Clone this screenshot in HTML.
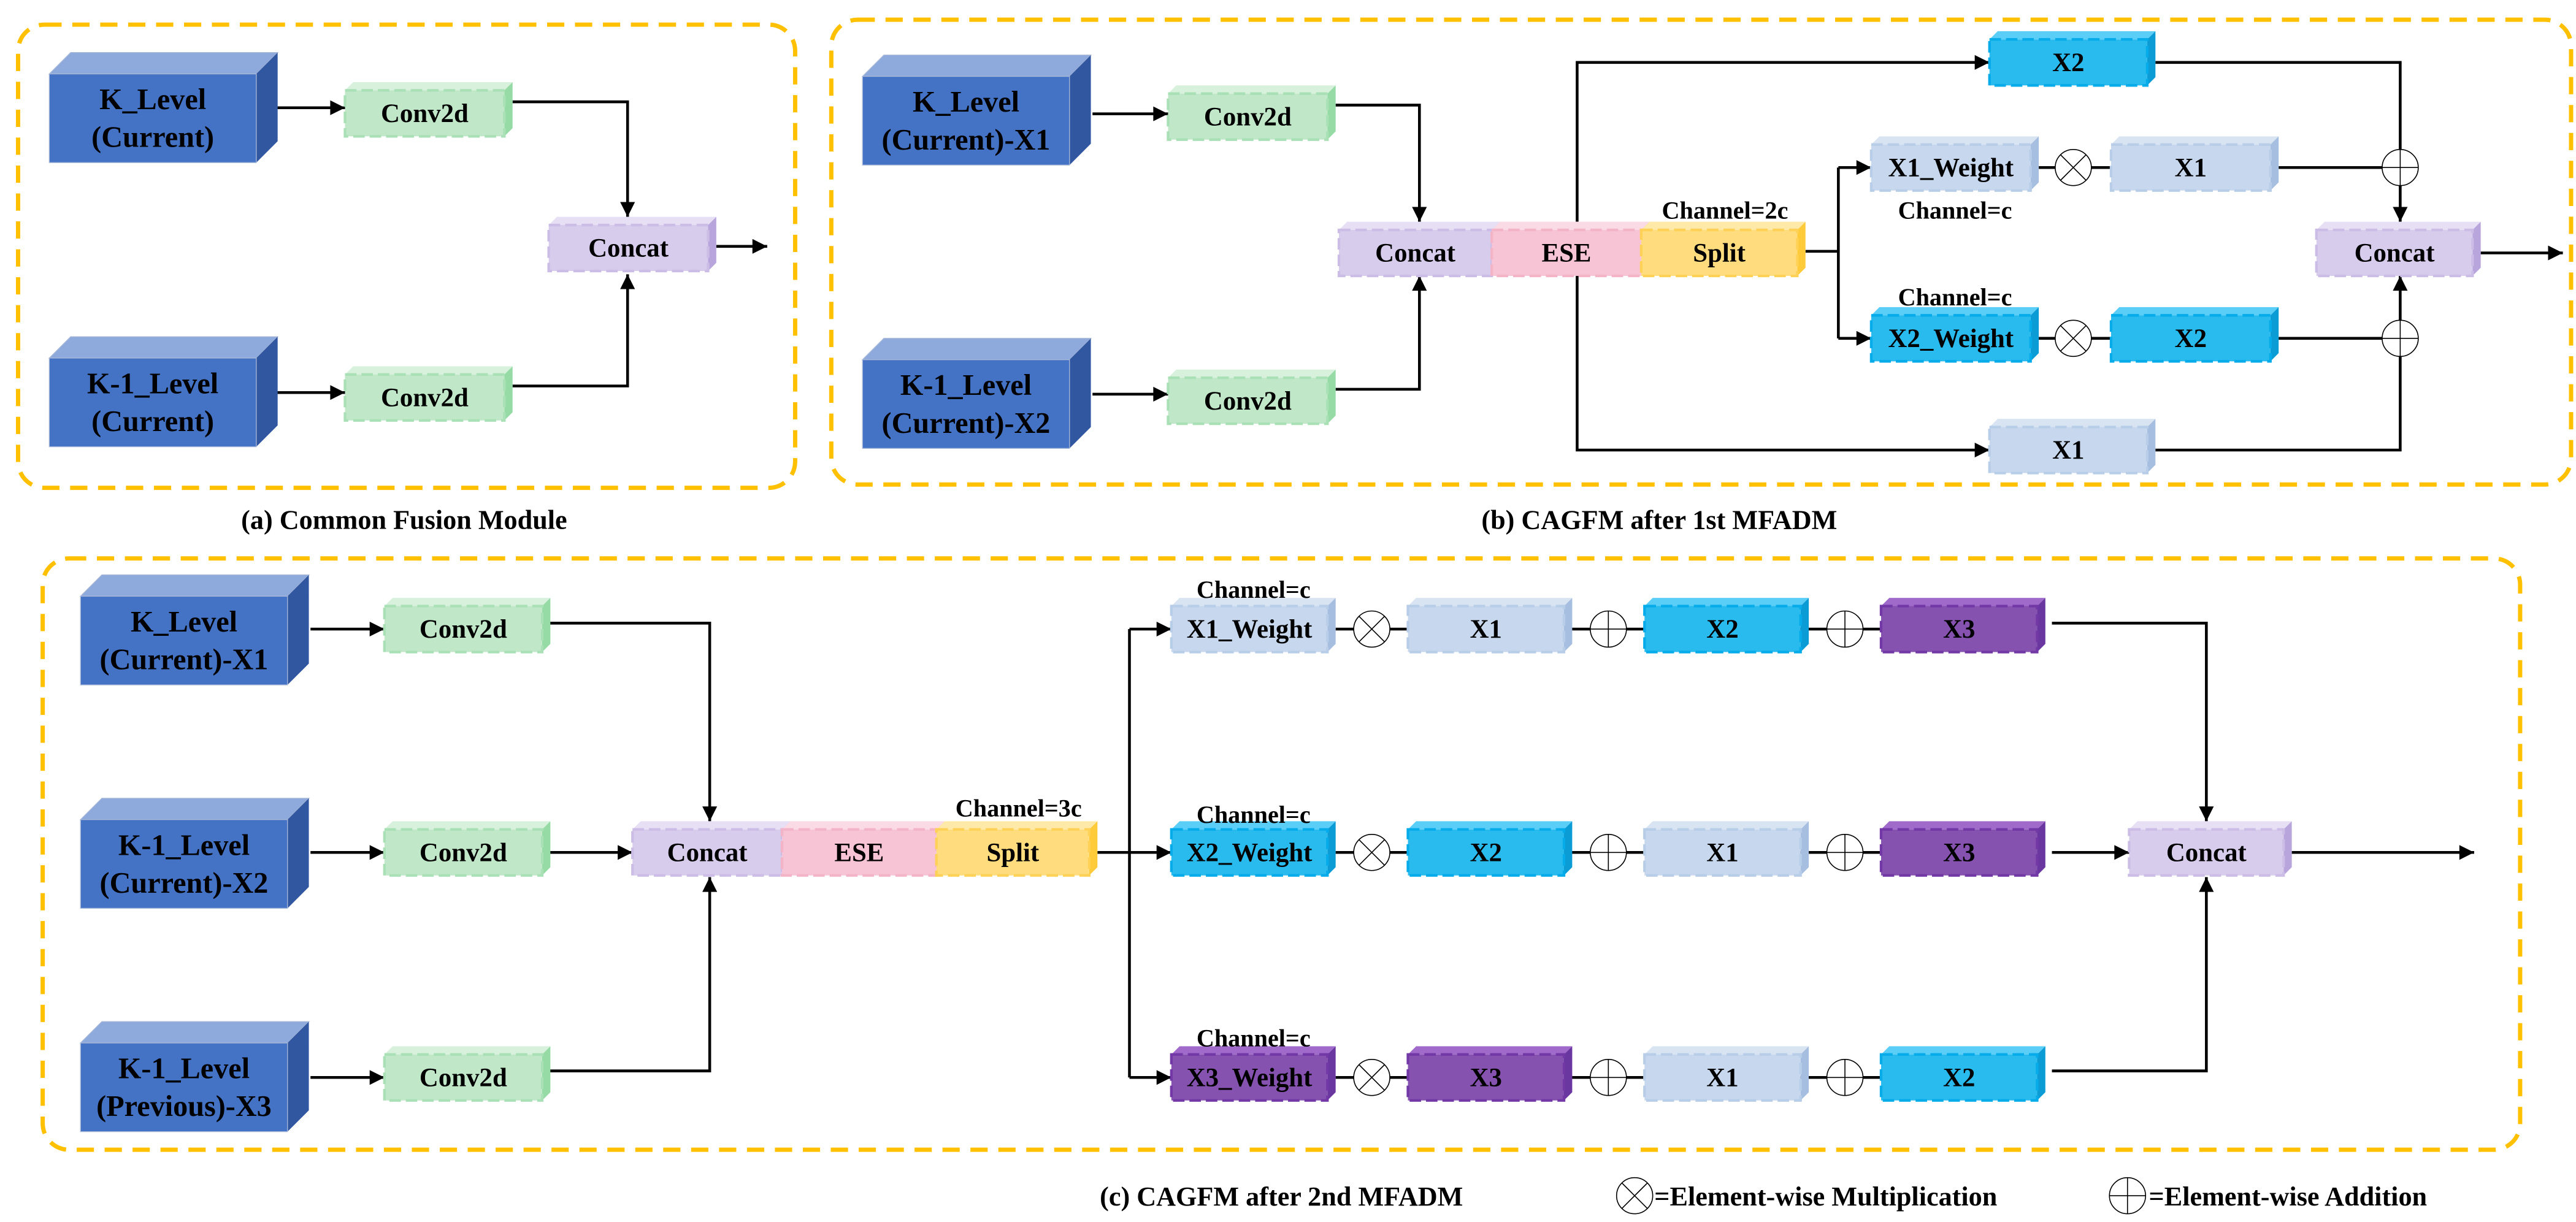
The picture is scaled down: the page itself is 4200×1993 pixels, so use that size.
<!DOCTYPE html>
<html><head><meta charset="utf-8">
<style>
html,body{margin:0;padding:0;background:#fff;}
svg{display:block;}
svg text{font-family:"Liberation Serif",serif !important;font-weight:700;fill:#000;text-anchor:middle;}
.t16{font-size:16px}.t18{font-size:18px}.t15{font-size:15px}.cap{font-size:16.5px}
.ln{fill:none;stroke:#000;stroke-width:1.7}
.bd{fill:none;stroke:#FFC000;stroke-width:2.6;stroke-dasharray:10.5 6.5}
.G .f{fill:#C0E8C8;stroke:#A9E0B6;stroke-width:1.6;stroke-dasharray:7 3}.G .u{fill:#D8F1DC}.G .s{fill:#96DBA6}
.P .f{fill:#D8CCEC;stroke:#CBBDE6;stroke-width:1.6;stroke-dasharray:7 3}.P .u{fill:#E7DFF4}.P .s{fill:#B7A5DC}
.K .f{fill:#F7C4D5;stroke:#F4B4C8;stroke-width:1.6;stroke-dasharray:7 3}.K .u{fill:#FADAE5}.K .s{fill:#EFA8BF}
.Y .f{fill:#FFDD7E;stroke:#FFD257;stroke-width:1.6;stroke-dasharray:7 3}.Y .u{fill:#FFE9A8}.Y .s{fill:#FFCB3A}
.L .f{fill:#C7D8EE;stroke:#B8CDE8;stroke-width:1.6;stroke-dasharray:7 3}.L .u{fill:#D9E4F3}.L .s{fill:#A6BEE0}
.C .f{fill:#29BBEE;stroke:#06ABEA;stroke-width:1.6;stroke-dasharray:7 3}.C .u{fill:#5ACEF7}.C .s{fill:#0B9CD6}
.V .f{fill:#8652B0;stroke:#7238A6;stroke-width:1.6;stroke-dasharray:7 3}.V .u{fill:#A06ACB}.V .s{fill:#6A36A0}
.B .f{fill:#4472C4;stroke:#A8B8D8;stroke-width:0.5}.B .u{fill:#8EA9DB;stroke:#A8B8D8;stroke-width:0.5}.B .s{fill:#3157A0}
.ci{fill:#fff;stroke:#000;stroke-width:0.6}
.cl{stroke:#000;stroke-width:0.6}
</style></head><body>
<svg width="4200" height="1993" viewBox="0 0 1568 744" preserveAspectRatio="none" xmlns="http://www.w3.org/2000/svg" font-family="Liberation Serif, serif" font-weight="bold">
<defs>
<marker id="ar" viewBox="0 0 10 10" refX="10" refY="5" markerWidth="10" markerHeight="9" markerUnits="userSpaceOnUse" orient="auto"><path d="M0 0L10 5L0 10z" fill="#000"/></marker>
<g id="mul"><circle class="ci" r="11"/><path class="cl" d="M-7.8 -7.8L7.8 7.8M-7.8 7.8L7.8 -7.8"/></g>
<g id="add"><circle class="ci" r="11"/><path class="cl" d="M-11 0H11M0 -11V11"/></g>
</defs>

<rect class="bd" x="11" y="15" width="473" height="282" rx="16"/>
<rect class="bd" x="506" y="12" width="1059" height="283" rx="16"/>
<rect class="bd" x="26" y="340" width="1508" height="360" rx="16"/>

<g class="ln">
<path d="M168 65.6H210" marker-end="url(#ar)"/>
<path d="M168 239H210" marker-end="url(#ar)"/>
<path d="M312 62H382V132" marker-end="url(#ar)"/>
<path d="M312 235H382V167" marker-end="url(#ar)"/>
<path d="M436 150H467" marker-end="url(#ar)"/>
<path d="M665 69.3H711" marker-end="url(#ar)"/>
<path d="M665 240H711" marker-end="url(#ar)"/>
<path d="M813 64H864V135" marker-end="url(#ar)"/>
<path d="M813 237H864V168" marker-end="url(#ar)"/>
<path d="M960 135V38H1211" marker-end="url(#ar)"/>
<path d="M960 168V274H1211" marker-end="url(#ar)"/>
<path d="M1099 153H1119M1119 102V206"/>
<path d="M1119 102H1139" marker-end="url(#ar)"/>
<path d="M1119 206H1139" marker-end="url(#ar)"/>
<path d="M1241 102H1285M1241 206H1285M1387 102H1461M1387 206H1461"/>
<path d="M1312 38H1461V135" marker-end="url(#ar)"/>
<path d="M1312 274H1461V168" marker-end="url(#ar)"/>
<path d="M1510 154H1560" marker-end="url(#ar)"/>
<path d="M189 383H234" marker-end="url(#ar)"/>
<path d="M189 519H234" marker-end="url(#ar)"/>
<path d="M189 656H234" marker-end="url(#ar)"/>
<path d="M334 379.4H432V500" marker-end="url(#ar)"/>
<path d="M334 519H385" marker-end="url(#ar)"/>
<path d="M334 652H432V534" marker-end="url(#ar)"/>
<path d="M668 519H687.5M687.5 383V656"/>
<path d="M687.5 383H713" marker-end="url(#ar)"/>
<path d="M687.5 519H713" marker-end="url(#ar)"/>
<path d="M687.5 656H713" marker-end="url(#ar)"/>
<path d="M813 383H1145M813 519H1145M813 656H1145"/>
<path d="M1249 379.4H1343V500" marker-end="url(#ar)"/>
<path d="M1249 519H1296" marker-end="url(#ar)"/>
<path d="M1249 652H1343V534" marker-end="url(#ar)"/>
<path d="M1395 519H1506" marker-end="url(#ar)"/>
</g>

<g class="B" transform="translate(30,45)"><path class="u" d="M0 0l13-13h126l-13 13z"/><path class="s" d="M126 0l13-13v54l-13 13z"/><rect class="f" width="126" height="54"/><text class="t18" font-family="Liberation Serif, serif" x="63" y="21.5">K_Level</text><text class="t18" font-family="Liberation Serif, serif" x="63" y="44.5">(Current)</text></g>
<g class="B" transform="translate(30,218)"><path class="u" d="M0 0l13-13h126l-13 13z"/><path class="s" d="M126 0l13-13v54l-13 13z"/><rect class="f" width="126" height="54"/><text class="t18" font-family="Liberation Serif, serif" x="63" y="21.5">K-1_Level</text><text class="t18" font-family="Liberation Serif, serif" x="63" y="44.5">(Current)</text></g>

<g class="B" transform="translate(525,46.5)"><path class="u" d="M0 0l13-13h126l-13 13z"/><path class="s" d="M126 0l13-13v54l-13 13z"/><rect class="f" width="126" height="54"/><text class="t18" font-family="Liberation Serif, serif" x="63" y="21.5">K_Level</text><text class="t18" font-family="Liberation Serif, serif" x="63" y="44.5">(Current)-X1</text></g>
<g class="B" transform="translate(525,219)"><path class="u" d="M0 0l13-13h126l-13 13z"/><path class="s" d="M126 0l13-13v54l-13 13z"/><rect class="f" width="126" height="54"/><text class="t18" font-family="Liberation Serif, serif" x="63" y="21.5">K-1_Level</text><text class="t18" font-family="Liberation Serif, serif" x="63" y="44.5">(Current)-X2</text></g>

<g class="B" transform="translate(49,363)"><path class="u" d="M0 0l13-13h126l-13 13z"/><path class="s" d="M126 0l13-13v54l-13 13z"/><rect class="f" width="126" height="54"/><text class="t18" font-family="Liberation Serif, serif" x="63" y="21.5">K_Level</text><text class="t18" font-family="Liberation Serif, serif" x="63" y="44.5">(Current)-X1</text></g>
<g class="B" transform="translate(49,499)"><path class="u" d="M0 0l13-13h126l-13 13z"/><path class="s" d="M126 0l13-13v54l-13 13z"/><rect class="f" width="126" height="54"/><text class="t18" font-family="Liberation Serif, serif" x="63" y="21.5">K-1_Level</text><text class="t18" font-family="Liberation Serif, serif" x="63" y="44.5">(Current)-X2</text></g>
<g class="B" transform="translate(49,635)"><path class="u" d="M0 0l13-13h126l-13 13z"/><path class="s" d="M126 0l13-13v54l-13 13z"/><rect class="f" width="126" height="54"/><text class="t18" font-family="Liberation Serif, serif" x="63" y="21.5">K-1_Level</text><text class="t18" font-family="Liberation Serif, serif" x="63" y="44.5">(Previous)-X3</text></g>

<g class="G" transform="translate(210,55)"><path class="u" d="M0 0l5-5h97l-5 5z"/><path class="s" d="M97 0l5-5v28l-5 5z"/><rect class="f" width="97" height="28"/><text class="t16" font-family="Liberation Serif, serif" x="48.5" y="19.3">Conv2d</text></g>
<g class="G" transform="translate(210,228)"><path class="u" d="M0 0l5-5h97l-5 5z"/><path class="s" d="M97 0l5-5v28l-5 5z"/><rect class="f" width="97" height="28"/><text class="t16" font-family="Liberation Serif, serif" x="48.5" y="19.3">Conv2d</text></g>
<g class="P" transform="translate(334,137)"><path class="u" d="M0 0l5-5h97l-5 5z"/><path class="s" d="M97 0l5-5v28l-5 5z"/><rect class="f" width="97" height="28"/><text class="t16" font-family="Liberation Serif, serif" x="48.5" y="19.3">Concat</text></g>
<g class="G" transform="translate(711,57)"><path class="u" d="M0 0l5-5h97l-5 5z"/><path class="s" d="M97 0l5-5v28l-5 5z"/><rect class="f" width="97" height="28"/><text class="t16" font-family="Liberation Serif, serif" x="48.5" y="19.3">Conv2d</text></g>
<g class="G" transform="translate(711,230)"><path class="u" d="M0 0l5-5h97l-5 5z"/><path class="s" d="M97 0l5-5v28l-5 5z"/><rect class="f" width="97" height="28"/><text class="t16" font-family="Liberation Serif, serif" x="48.5" y="19.3">Conv2d</text></g>
<g class="P" transform="translate(815,140)"><path class="u" d="M0 0l5-5h93l-5 5z"/><path class="s" d="M93 0l5-5v28l-5 5z"/><rect class="f" width="93" height="28"/><text class="t16" font-family="Liberation Serif, serif" x="46.5" y="19.3">Concat</text></g>
<g class="K" transform="translate(908,140)"><path class="u" d="M0 0l5-5h91l-5 5z"/><path class="s" d="M91 0l5-5v28l-5 5z"/><rect class="f" width="91" height="28"/><text class="t16" font-family="Liberation Serif, serif" x="45.5" y="19.3">ESE</text></g>
<g class="Y" transform="translate(999,140)"><path class="u" d="M0 0l5-5h95l-5 5z"/><path class="s" d="M95 0l5-5v28l-5 5z"/><rect class="f" width="95" height="28"/><text class="t16" font-family="Liberation Serif, serif" x="47.5" y="19.3">Split</text></g>
<g class="C" transform="translate(1211,24)"><path class="u" d="M0 0l5-5h96l-5 5z"/><path class="s" d="M96 0l5-5v28l-5 5z"/><rect class="f" width="96" height="28"/><text class="t16" font-family="Liberation Serif, serif" x="48" y="19.3">X2</text></g>
<g class="L" transform="translate(1139,88)"><path class="u" d="M0 0l5-5h97l-5 5z"/><path class="s" d="M97 0l5-5v28l-5 5z"/><rect class="f" width="97" height="28"/><text class="t16" font-family="Liberation Serif, serif" x="48.5" y="19.3">X1_Weight</text></g>
<g class="L" transform="translate(1285,88)"><path class="u" d="M0 0l5-5h97l-5 5z"/><path class="s" d="M97 0l5-5v28l-5 5z"/><rect class="f" width="97" height="28"/><text class="t16" font-family="Liberation Serif, serif" x="48.5" y="19.3">X1</text></g>
<g class="C" transform="translate(1139,192)"><path class="u" d="M0 0l5-5h97l-5 5z"/><path class="s" d="M97 0l5-5v28l-5 5z"/><rect class="f" width="97" height="28"/><text class="t16" font-family="Liberation Serif, serif" x="48.5" y="19.3">X2_Weight</text></g>
<g class="C" transform="translate(1285,192)"><path class="u" d="M0 0l5-5h97l-5 5z"/><path class="s" d="M97 0l5-5v28l-5 5z"/><rect class="f" width="97" height="28"/><text class="t16" font-family="Liberation Serif, serif" x="48.5" y="19.3">X2</text></g>
<g class="L" transform="translate(1211,260)"><path class="u" d="M0 0l5-5h96l-5 5z"/><path class="s" d="M96 0l5-5v28l-5 5z"/><rect class="f" width="96" height="28"/><text class="t16" font-family="Liberation Serif, serif" x="48" y="19.3">X1</text></g>
<g class="P" transform="translate(1410,140)"><path class="u" d="M0 0l5-5h95l-5 5z"/><path class="s" d="M95 0l5-5v28l-5 5z"/><rect class="f" width="95" height="28"/><text class="t16" font-family="Liberation Serif, serif" x="47.5" y="19.3">Concat</text></g>
<g class="G" transform="translate(234,369)"><path class="u" d="M0 0l5-5h96l-5 5z"/><path class="s" d="M96 0l5-5v28l-5 5z"/><rect class="f" width="96" height="28"/><text class="t16" font-family="Liberation Serif, serif" x="48" y="19.3">Conv2d</text></g>
<g class="G" transform="translate(234,505)"><path class="u" d="M0 0l5-5h96l-5 5z"/><path class="s" d="M96 0l5-5v28l-5 5z"/><rect class="f" width="96" height="28"/><text class="t16" font-family="Liberation Serif, serif" x="48" y="19.3">Conv2d</text></g>
<g class="G" transform="translate(234,642)"><path class="u" d="M0 0l5-5h96l-5 5z"/><path class="s" d="M96 0l5-5v28l-5 5z"/><rect class="f" width="96" height="28"/><text class="t16" font-family="Liberation Serif, serif" x="48" y="19.3">Conv2d</text></g>
<g class="P" transform="translate(385,505)"><path class="u" d="M0 0l5-5h91l-5 5z"/><path class="s" d="M91 0l5-5v28l-5 5z"/><rect class="f" width="91" height="28"/><text class="t16" font-family="Liberation Serif, serif" x="45.5" y="19.3">Concat</text></g>
<g class="K" transform="translate(476,505)"><path class="u" d="M0 0l5-5h94l-5 5z"/><path class="s" d="M94 0l5-5v28l-5 5z"/><rect class="f" width="94" height="28"/><text class="t16" font-family="Liberation Serif, serif" x="47" y="19.3">ESE</text></g>
<g class="Y" transform="translate(570,505)"><path class="u" d="M0 0l5-5h93l-5 5z"/><path class="s" d="M93 0l5-5v28l-5 5z"/><rect class="f" width="93" height="28"/><text class="t16" font-family="Liberation Serif, serif" x="46.5" y="19.3">Split</text></g>
<g class="L" transform="translate(713,369)"><path class="u" d="M0 0l5-5h95l-5 5z"/><path class="s" d="M95 0l5-5v28l-5 5z"/><rect class="f" width="95" height="28"/><text class="t16" font-family="Liberation Serif, serif" x="47.5" y="19.3">X1_Weight</text></g>
<g class="L" transform="translate(857,369)"><path class="u" d="M0 0l5-5h95l-5 5z"/><path class="s" d="M95 0l5-5v28l-5 5z"/><rect class="f" width="95" height="28"/><text class="t16" font-family="Liberation Serif, serif" x="47.5" y="19.3">X1</text></g>
<g class="C" transform="translate(1001,369)"><path class="u" d="M0 0l5-5h95l-5 5z"/><path class="s" d="M95 0l5-5v28l-5 5z"/><rect class="f" width="95" height="28"/><text class="t16" font-family="Liberation Serif, serif" x="47.5" y="19.3">X2</text></g>
<g class="V" transform="translate(1145,369)"><path class="u" d="M0 0l5-5h95l-5 5z"/><path class="s" d="M95 0l5-5v28l-5 5z"/><rect class="f" width="95" height="28"/><text class="t16" font-family="Liberation Serif, serif" x="47.5" y="19.3">X3</text></g>
<g class="C" transform="translate(713,505)"><path class="u" d="M0 0l5-5h95l-5 5z"/><path class="s" d="M95 0l5-5v28l-5 5z"/><rect class="f" width="95" height="28"/><text class="t16" font-family="Liberation Serif, serif" x="47.5" y="19.3">X2_Weight</text></g>
<g class="C" transform="translate(857,505)"><path class="u" d="M0 0l5-5h95l-5 5z"/><path class="s" d="M95 0l5-5v28l-5 5z"/><rect class="f" width="95" height="28"/><text class="t16" font-family="Liberation Serif, serif" x="47.5" y="19.3">X2</text></g>
<g class="L" transform="translate(1001,505)"><path class="u" d="M0 0l5-5h95l-5 5z"/><path class="s" d="M95 0l5-5v28l-5 5z"/><rect class="f" width="95" height="28"/><text class="t16" font-family="Liberation Serif, serif" x="47.5" y="19.3">X1</text></g>
<g class="V" transform="translate(1145,505)"><path class="u" d="M0 0l5-5h95l-5 5z"/><path class="s" d="M95 0l5-5v28l-5 5z"/><rect class="f" width="95" height="28"/><text class="t16" font-family="Liberation Serif, serif" x="47.5" y="19.3">X3</text></g>
<g class="V" transform="translate(713,642)"><path class="u" d="M0 0l5-5h95l-5 5z"/><path class="s" d="M95 0l5-5v28l-5 5z"/><rect class="f" width="95" height="28"/><text class="t16" font-family="Liberation Serif, serif" x="47.5" y="19.3">X3_Weight</text></g>
<g class="V" transform="translate(857,642)"><path class="u" d="M0 0l5-5h95l-5 5z"/><path class="s" d="M95 0l5-5v28l-5 5z"/><rect class="f" width="95" height="28"/><text class="t16" font-family="Liberation Serif, serif" x="47.5" y="19.3">X3</text></g>
<g class="L" transform="translate(1001,642)"><path class="u" d="M0 0l5-5h95l-5 5z"/><path class="s" d="M95 0l5-5v28l-5 5z"/><rect class="f" width="95" height="28"/><text class="t16" font-family="Liberation Serif, serif" x="47.5" y="19.3">X1</text></g>
<g class="C" transform="translate(1145,642)"><path class="u" d="M0 0l5-5h95l-5 5z"/><path class="s" d="M95 0l5-5v28l-5 5z"/><rect class="f" width="95" height="28"/><text class="t16" font-family="Liberation Serif, serif" x="47.5" y="19.3">X2</text></g>
<g class="P" transform="translate(1296,505)"><path class="u" d="M0 0l5-5h94l-5 5z"/><path class="s" d="M94 0l5-5v28l-5 5z"/><rect class="f" width="94" height="28"/><text class="t16" font-family="Liberation Serif, serif" x="47" y="19.3">Concat</text></g>

<use href="#mul" x="1262" y="102"/><use href="#mul" x="1262" y="206"/>
<use href="#add" x="1461" y="102"/><use href="#add" x="1461" y="206"/>
<use href="#mul" x="835" y="383"/><use href="#add" x="979" y="383"/><use href="#add" x="1123" y="383"/>
<use href="#mul" x="835" y="519"/><use href="#add" x="979" y="519"/><use href="#add" x="1123" y="519"/>
<use href="#mul" x="835" y="656"/><use href="#add" x="979" y="656"/><use href="#add" x="1123" y="656"/>

<text class="t15" font-family="Liberation Serif, serif" x="1050" y="133">Channel=2c</text>
<text class="t15" font-family="Liberation Serif, serif" x="1190" y="133">Channel=c</text>
<text class="t15" font-family="Liberation Serif, serif" x="1190" y="186">Channel=c</text>
<text class="t15" font-family="Liberation Serif, serif" x="620" y="497">Channel=3c</text>
<text class="t15" font-family="Liberation Serif, serif" x="763" y="364">Channel=c</text>
<text class="t15" font-family="Liberation Serif, serif" x="763" y="501">Channel=c</text>
<text class="t15" font-family="Liberation Serif, serif" x="763" y="637">Channel=c</text>

<text class="cap" font-family="Liberation Serif, serif" x="246" y="322">(a) Common Fusion Module</text>
<text class="cap" font-family="Liberation Serif, serif" x="1010" y="322">(b) CAGFM after 1st MFADM</text>
<text class="cap" font-family="Liberation Serif, serif" x="780" y="734">(c) CAGFM after 2nd MFADM</text>
<use href="#mul" x="995" y="728"/>
<text class="cap" font-family="Liberation Serif, serif" x="1007" y="734" style="text-anchor:start">=Element-wise  Multiplication</text>
<use href="#add" x="1295" y="728"/>
<text class="cap" font-family="Liberation Serif, serif" x="1308" y="734" style="text-anchor:start">=Element-wise Addition</text>
</svg>
</body></html>
